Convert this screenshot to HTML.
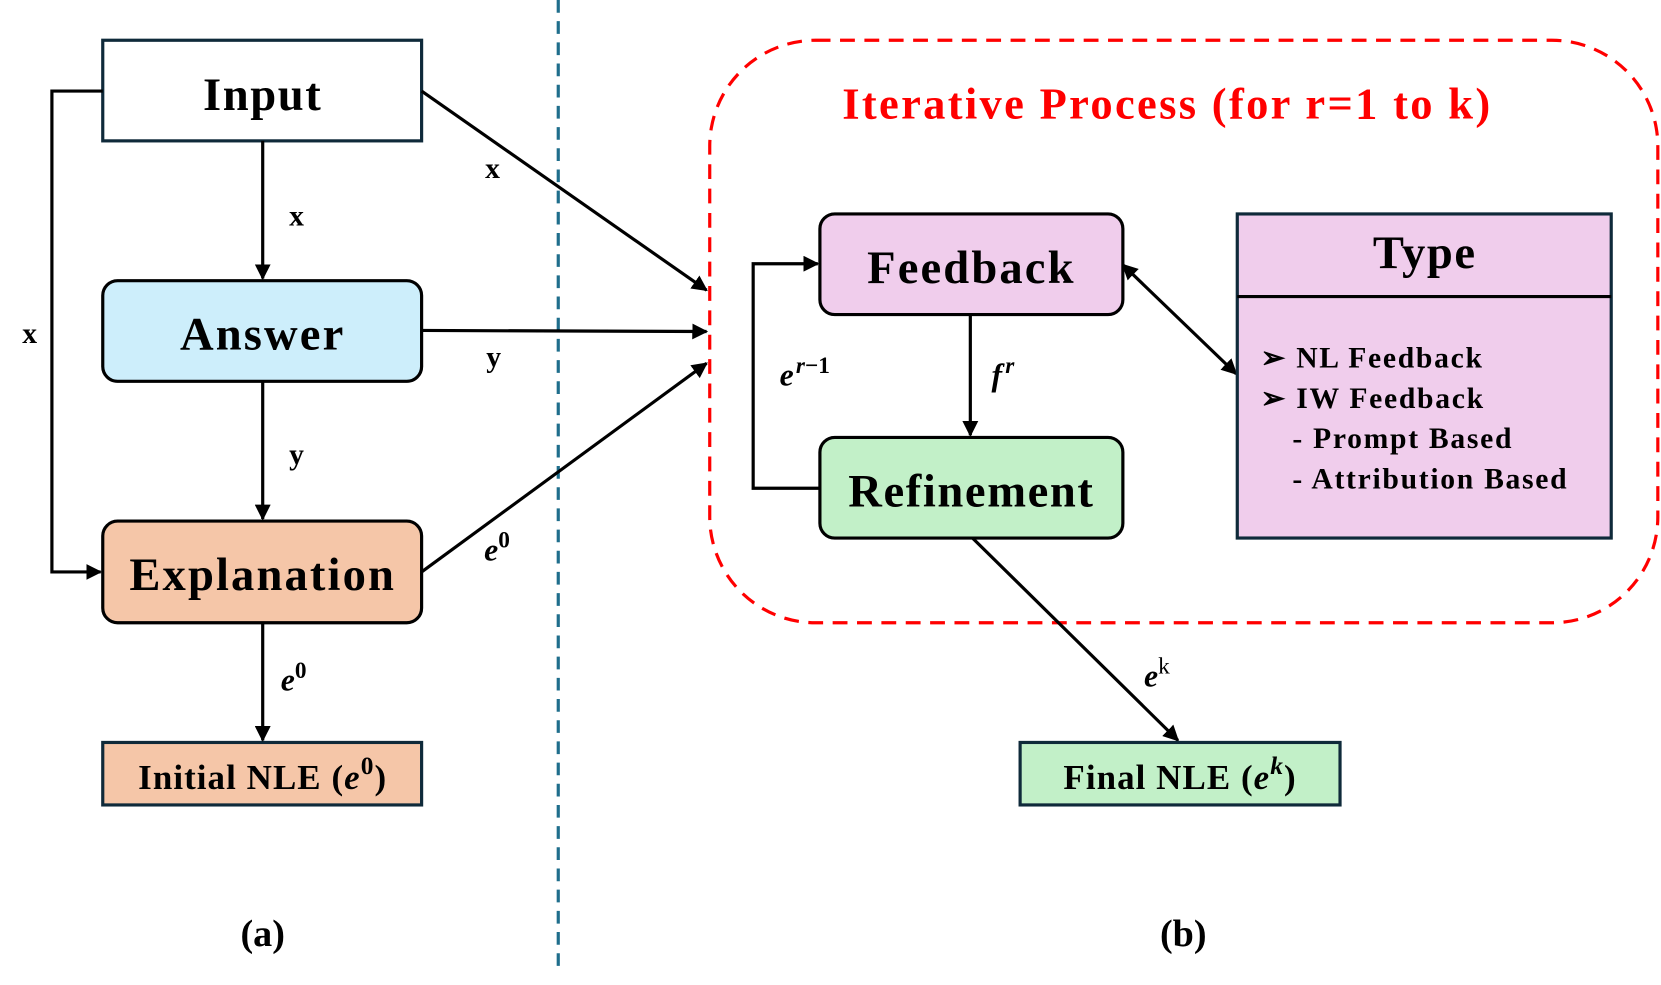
<!DOCTYPE html>
<html><head><style>
html,body{margin:0;padding:0;background:#fff;}
svg{display:block;}
text{font-family:"Liberation Serif",serif;font-weight:bold;fill:#000;}
</style></head><body>
<svg width="1661" height="985" viewBox="0 0 1568 930" preserveAspectRatio="none" xmlns="http://www.w3.org/2000/svg">
<defs>
<marker id="a" viewBox="0 0 10 10" refX="9" refY="5" markerWidth="5" markerHeight="5" orient="auto-start-reverse"><path d="M0,0 L10,5 L0,10 z" fill="#000"/></marker>
</defs>
<line x1="527" y1="0" x2="527" y2="912" stroke="#1f6e8c" stroke-width="3" stroke-dasharray="12,8"/>
<rect x="670" y="38" width="895" height="550" rx="100" fill="none" stroke="#f00" stroke-width="3" stroke-dasharray="14,9"/>
<text x="1102" y="112" font-size="42" text-anchor="middle" letter-spacing="2.2" style="fill:#f00">Iterative Process (for r=1 to k)</text>

<rect x="97" y="38" width="301" height="95" fill="#fff" stroke="#0f2a3a" stroke-width="3"/>
<text x="248" y="104" font-size="44" text-anchor="middle" letter-spacing="1.5">Input</text>
<rect x="97" y="265" width="301" height="95" rx="14" fill="#cdeefb" stroke="#000" stroke-width="3"/>
<text x="248" y="330" font-size="44" text-anchor="middle" letter-spacing="2">Answer</text>
<rect x="97" y="492" width="301" height="96" rx="14" fill="#f5c6a8" stroke="#000" stroke-width="3"/>
<text x="248" y="557" font-size="44" text-anchor="middle" letter-spacing="2">Explanation</text>
<rect x="97" y="701" width="301" height="59" fill="#f5c6a8" stroke="#0f2a3a" stroke-width="3"/>
<text x="248" y="745" font-size="33" text-anchor="middle" letter-spacing="1">Initial NLE (<tspan font-style="italic">e</tspan><tspan font-size="24" dy="-14">0</tspan><tspan dy="14">)</tspan></text>

<g stroke="#000" stroke-width="3" fill="none">
<line x1="248" y1="133" x2="248" y2="263" marker-end="url(#a)"/>
<line x1="248" y1="360" x2="248" y2="490" marker-end="url(#a)"/>
<line x1="248" y1="588" x2="248" y2="699" marker-end="url(#a)"/>
<polyline points="97,86 49,86 49,540 95,540" marker-end="url(#a)"/>
<line x1="398" y1="86" x2="667" y2="274" marker-end="url(#a)"/>
<line x1="398" y1="312" x2="667" y2="313" marker-end="url(#a)"/>
<line x1="398" y1="540" x2="667" y2="343" marker-end="url(#a)"/>
<line x1="916" y1="297" x2="916" y2="411" marker-end="url(#a)"/>
<polyline points="774,461 711,461 711,249 772,249" marker-end="url(#a)"/>
<line x1="1060" y1="250" x2="1167" y2="353" marker-start="url(#a)" marker-end="url(#a)"/>
<line x1="918" y1="508" x2="1112" y2="699" marker-end="url(#a)"/>
</g>
<text x="280" y="213" font-size="28" text-anchor="middle">x</text>
<text x="280" y="438" font-size="28" text-anchor="middle">y</text>
<text x="28" y="324" font-size="28" text-anchor="middle">x</text>
<text x="465" y="168" font-size="28" text-anchor="middle">x</text>
<text x="466" y="346" font-size="28" text-anchor="middle">y</text>
<text x="265" y="652" font-size="30"><tspan font-style="italic">e</tspan><tspan font-size="22" dy="-12">0</tspan></text>
<text x="457" y="529" font-size="30"><tspan font-style="italic">e</tspan><tspan font-size="22" dy="-12">0</tspan></text>

<rect x="774" y="202" width="286" height="95" rx="14" fill="#f0cdec" stroke="#000" stroke-width="3"/>
<text x="917" y="267" font-size="44" text-anchor="middle" letter-spacing="2">Feedback</text>
<rect x="774" y="413" width="286" height="95" rx="14" fill="#c2f0c8" stroke="#000" stroke-width="3"/>
<text x="917" y="478" font-size="44" text-anchor="middle" letter-spacing="1.5">Refinement</text>
<text x="936" y="364" font-size="30"><tspan font-style="italic">f</tspan><tspan font-size="22" dy="-12" dx="3" font-style="italic">r</tspan></text>
<text x="736" y="364" font-size="30"><tspan font-style="italic">e</tspan><tspan font-size="22" dy="-12" dx="2" font-style="italic">r</tspan><tspan font-size="22">−1</tspan></text>
<text x="1080" y="648" font-size="30"><tspan font-style="italic">e</tspan><tspan font-size="22" dy="-12" font-weight="normal">k</tspan></text>

<rect x="1168" y="202" width="353" height="306" fill="#f0cdec" stroke="#0f2a3a" stroke-width="3"/>
<line x1="1168" y1="280" x2="1521" y2="280" stroke="#000" stroke-width="3"/>
<text x="1345" y="253" font-size="44" text-anchor="middle" letter-spacing="1.5">Type</text>
<text x="1190" y="347" font-size="28" letter-spacing="1.6">➢ NL Feedback</text>
<text x="1190" y="385" font-size="28" letter-spacing="1.6">➢ IW Feedback</text>
<text x="1220" y="423" font-size="28" letter-spacing="1.6">- Prompt Based</text>
<text x="1220" y="461" font-size="28" letter-spacing="1.6">- Attribution Based</text>

<rect x="963" y="701" width="302" height="59" fill="#c2f0c8" stroke="#0f2a3a" stroke-width="3"/>
<text x="1114" y="745" font-size="33" text-anchor="middle" letter-spacing="1">Final NLE (<tspan font-style="italic">e</tspan><tspan font-size="24" dy="-14" font-style="italic">k</tspan><tspan dy="14">)</tspan></text>

<text x="248" y="893" font-size="36" text-anchor="middle">(a)</text>
<text x="1117" y="893" font-size="36" text-anchor="middle">(b)</text>
</svg>
</body></html>
